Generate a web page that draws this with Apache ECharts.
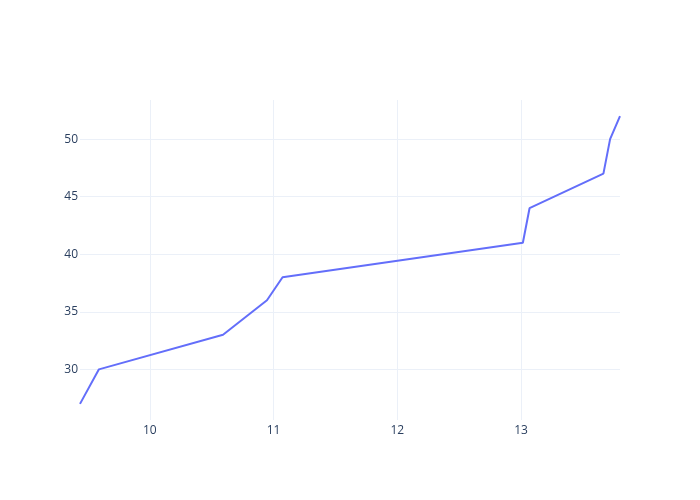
<!DOCTYPE html>
<html>
<head>
<meta charset="utf-8">
<script src="https://cdn.jsdelivr.net/npm/echarts@6/dist/echarts.min.js"></script>
<style>html,body{margin:0;padding:0;background:#fff}#c{width:700px;height:500px}</style>
</head>
<body>
<div id="c"></div>
<script>
const xValues = [9.436, 9.589, 10.592, 10.947, 11.073, 13.015, 13.069, 13.666, 13.72, 13.80];
const yValues = [27, 30, 33, 36, 38, 41, 44, 47, 50, 52];
const xRange = [9.436, 13.80];
const yRange = [25.6, 53.4];

const chart = echarts.init(document.getElementById('c'));
const labelStyle = { color: '#2a3f5f', fontSize: 12, fontFamily: 'Open Sans' };
chart.setOption({
  animation: false,
  backgroundColor: '#fff',
  grid: { left: 80, right: 80, top: 100, bottom: 80, containLabel: false },
  xAxis: {
    type: 'value', min: xRange[0], max: xRange[1],
    axisLine: { show: false }, axisTick: { show: false },
    axisLabel: Object.assign({ margin: 5, showMinLabel: false, showMaxLabel: false }, labelStyle),
    splitLine: { show: true, showMinLine: false, showMaxLine: false, lineStyle: { color: '#ebf0f8', width: 1 } }
  },
  yAxis: {
    type: 'value', min: yRange[0], max: yRange[1],
    axisLine: { show: false }, axisTick: { show: false },
    axisLabel: Object.assign({ margin: 2, showMinLabel: false, showMaxLabel: false }, labelStyle),
    splitLine: { show: true, showMinLine: false, showMaxLine: false, lineStyle: { color: '#ebf0f8', width: 1 } }
  },
  series: [{
    type: 'line',
    data: xValues.map((x, i) => [x, yValues[i]]),
    showSymbol: false,
    symbol: 'none',
    lineStyle: { color: '#636efa', width: 2 },
    clip: true
  }]
});
</script>
</body>
</html>
